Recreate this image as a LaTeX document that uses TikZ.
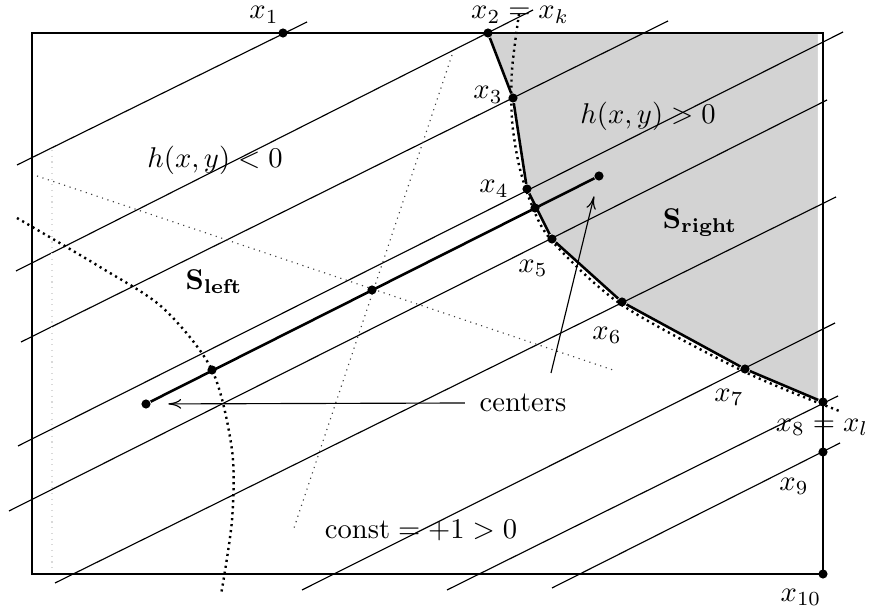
\documentclass[tikz,border=0pt]{standalone}
\usepackage{amsmath,amssymb}
\usepackage{xcolor}
\usepackage{tikz}
\usetikzlibrary{arrows.meta}
\definecolor{regiongray}{RGB}{211,211,211}

\begin{document}
\begin{tikzpicture}[x=0.35pt,y=-0.35pt,
  dot/.style={circle,fill,inner sep=0pt,minimum size=3.2pt},
  lab/.style={inner sep=0pt},
  heavy/.style={line width=0.9pt},
  bigdots/.style={line width=0.85pt,dash pattern=on 0.75pt off 1.35pt},
  smalldots/.style={black!75,dash pattern=on 0.4pt off 1.6pt},
  arr/.style={-{To[length=4.5pt,width=3.4pt]},thin}]
  \useasboundingbox (0,0) rectangle (870,612);
  % region h(x,y)>0
  \fill[regiongray,draw=white,line width=0.8pt] (488,33) -- (819,33) -- (819,402) -- (745,369)
    -- (622,302) -- (552,239) -- (527,189) -- (513,98) -- cycle;
  % level lines
  \draw[thin] (17,165) -- (307,22)  (16,271) -- (533,10)  (21,342) -- (668,21)
    (18,446) -- (843,32)  (9,511) -- (827,100)  (55,583) -- (836,197)
    (302,590) -- (835,323)  (447,590) -- (838,396)  (552,588) -- (840,443);
  \draw[smalldots] (37,176) -- (613,370);
  \draw[smalldots] (452,55) -- (293,531);
  \draw[black!15,dash pattern=on 0.4pt off 1.6pt] (52,150) -- (52,572);
  \draw[bigdots] plot[smooth] coordinates {(17,218) (100,267) (163,308) (212,370)
    (232,450) (232,520) (221,595)};
  \draw[bigdots] plot[smooth] coordinates {(519,14) (512,70) (512,120) (519,165)
    (531,203) (552,241) (622,305) (745,372) (842,412)};
  \draw[heavy] (32,33) rectangle (823,574);
  % points
  \node[dot] (p1) at (283,33) {};
  \node[dot] (p2) at (488,33) {};
  \node[dot] (p3) at (513,98) {};
  \node[dot] (p4) at (527,189) {};
  \node[dot] (p5) at (552,239) {};
  \node[dot] (p6) at (622,302) {};
  \node[dot] (p7) at (745,369) {};
  \node[dot] (p8) at (823,402) {};
  \node[dot] (p9) at (823,452) {};
  \node[dot] (p10) at (823,574) {};
  \draw[heavy] (p2) -- (p3) -- (p4) -- (p5) -- (p6) -- (p7) -- (p8);
  % centers
  \node[dot] (cl) at (146,404) {};
  \node[dot] (cm1) at (212,370) {};
  \node[dot] (cm) at (372,290) {};
  \node[dot] (cm2) at (535,208) {};
  \node[dot] (cr) at (599,176) {};
  \draw[heavy] (cl) -- (cr);
  % labels
  \node[lab] (l1) at (264,15) {$x_1$};
  \node[lab] (l2) at (520,15) {$x_2 = x_k$};
  \node[lab] (l3) at (488,95) {$x_3$};
  \node[lab] (l4) at (494,189) {$x_4$};
  \node[lab] (l5) at (533,268) {$x_5$};
  \node[lab] (l6) at (607,335) {$x_6$};
  \node[lab] (l7) at (729,397) {$x_7$};
  \node[lab] (l8) at (822,427) {$x_8 = x_l$};
  \node[lab] (l9) at (794,486) {$x_9$};
  \node[lab] (l10) at (801,597) {$x_{10}$};
  \node[lab] (neg) at (215,160) {$h(x,y) < 0$};
  \node[lab] (pos) at (648,116) {$h(x,y) > 0$};
  \node[lab] (sl) at (214,282) {$\mathbf{S}_{\mathbf{left}}$};
  \node[lab] (sr) at (700,223) {$\mathbf{S}_{\mathbf{right}}$};
  \node[lab] (cst) at (421,530) {$\text{const} = +1 > 0$};
  \node[lab,inner sep=5pt] (cen) at (523,403) {centers};
  \coordinate (cu) at (551,373);
  \draw[arr,shorten >=6pt] (cen.west) -- (cl);
  \draw[arr,shorten >=5.5pt] (cu) -- (cr);
\end{tikzpicture}
\end{document}
